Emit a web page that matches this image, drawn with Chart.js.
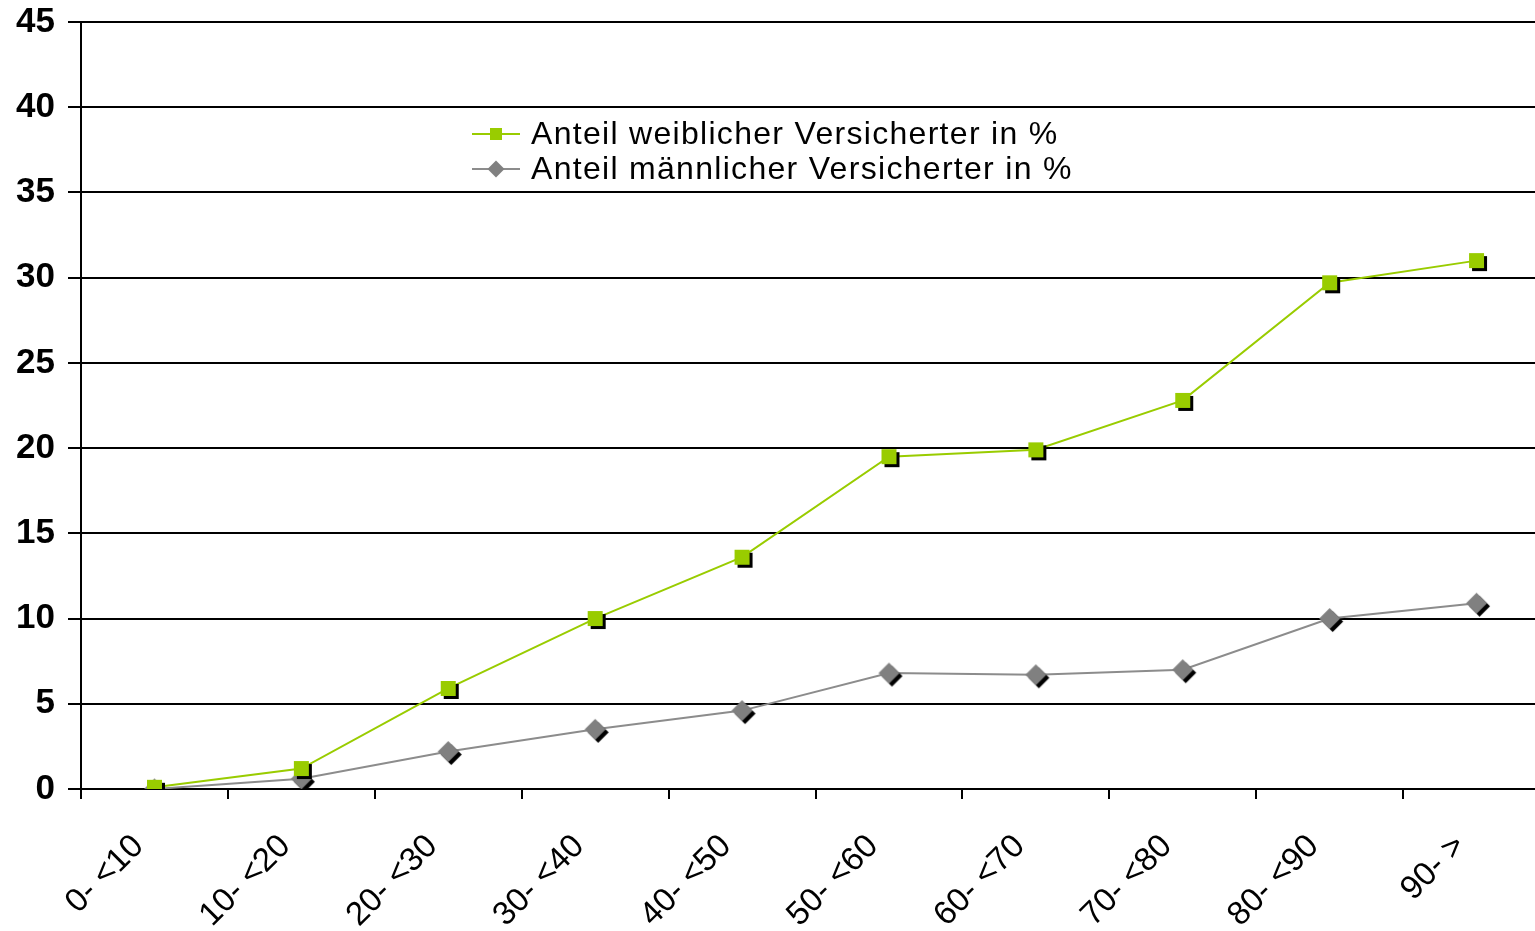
<!DOCTYPE html>
<html>
<head>
<meta charset="utf-8">
<script src="https://cdn.jsdelivr.net/npm/chart.js@4.4.0/dist/chart.umd.min.js"></script>
<style>
html,body{margin:0;padding:0;background:#fff;overflow:hidden;width:1535px;height:931px}
#wrap{position:absolute;left:0;top:0;width:1556px;height:931px}
#legend{position:absolute;left:472px;top:116px;font-family:"Liberation Sans",Arial,sans-serif;font-size:32px;color:#000;letter-spacing:1.3px;white-space:nowrap}
.item{display:flex;align-items:center;height:35px}
.sym{position:relative;width:48px;height:35px;margin-right:11px;flex:none}
.sym .ln{position:absolute;left:0;right:0;top:17px;height:2px}
.sym .mk{position:absolute}
</style>
</head>
<body>
<div id="wrap"><canvas id="c" width="1556" height="931"></canvas></div>
<div id="legend"></div>
<script>
const categories = ["0- <10","10- <20","20- <30","30- <40","40- <50","50- <60","60- <70","70- <80","80- <90","90- >"];
const femaleLabel = "Anteil weiblicher Versicherter in %";
const maleLabel = "Anteil männlicher Versicherter in %";
const female = [0.1, 1.2, 5.9, 10.0, 13.6, 19.5, 19.9, 22.8, 29.7, 31.0];
const male = [0.0, 0.6, 2.2, 3.5, 4.6, 6.8, 6.7, 7.0, 10.0, 10.9];
const yMin = 0, yMax = 45, yStep = 5;

const GREEN = "#99CC00";
const GRAY = "#808080";

function makeMarker(shape, color, size, off) {
  const s = size + off * 2 + 4;
  const cv = document.createElement("canvas");
  cv.width = s; cv.height = s;
  const ctx = cv.getContext("2d");
  const c = s / 2;
  function draw(cx, cy, fill) {
    ctx.fillStyle = fill;
    ctx.beginPath();
    if (shape === "square") {
      ctx.rect(cx - size / 2, cy - size / 2, size, size);
    } else {
      ctx.moveTo(cx, cy - size / 2);
      ctx.lineTo(cx + size / 2, cy);
      ctx.lineTo(cx, cy + size / 2);
      ctx.lineTo(cx - size / 2, cy);
      ctx.closePath();
    }
    ctx.fill();
  }
  draw(c + off, c + off, "#000");
  draw(c, c, color);
  return cv;
}

const squareMk = makeMarker("square", GREEN, 15, 3);
const diamondMk = makeMarker("diamond", GRAY, 21, 3);

const chart = new Chart(document.getElementById("c"), {
  type: "line",
  data: {
    labels: categories,
    datasets: [
      { label: femaleLabel, data: female, borderColor: GREEN, borderWidth: 2, pointStyle: squareMk, tension: 0, order: 1 },
      { label: maleLabel, data: male, borderColor: "#8c8c8c", borderWidth: 2, pointStyle: diamondMk, tension: 0, order: 2 }
    ]
  },
  options: {
    responsive: false,
    devicePixelRatio: 1,
    animation: false,
    layout: { padding: { top: 22, right: 0, left: 0, bottom: 0 } },
    plugins: { legend: { display: false }, tooltip: { enabled: false } },
    scales: {
      x: {
        type: "category",
        offset: true,
        grid: { offset: true, drawOnChartArea: false, drawTicks: true, tickLength: 10, color: "#000", lineWidth: 2 },
        border: { display: true, color: "#000", width: 2 },
        ticks: {
          color: "#000",
          font: { family: "'Liberation Sans', Arial, sans-serif", size: 33 },
          maxRotation: 45, minRotation: 45, padding: 28, labelOffset: -16, autoSkip: false
        },
        afterFit: (s) => { s.height = 142; }
      },
      y: {
        min: yMin, max: yMax,
        ticks: {
          stepSize: yStep, color: "#000", padding: 13,
          font: { family: "'Liberation Sans', Arial, sans-serif", size: 35, weight: "bold", lineHeight: 1 }
        },
        grid: { color: "#000", lineWidth: 2, tickLength: 13 },
        border: { display: true, color: "#000", width: 2 },
        afterFit: (s) => { s.width = 81; s.paddingTop = 0; s.paddingBottom = 0; }
      }
    }
  }
});

// legend (HTML, built from the dataset labels)
const legend = document.getElementById("legend");
[[femaleLabel, GREEN, "square"], [maleLabel, GRAY, "diamond"]].forEach(([txt, col, shape]) => {
  const item = document.createElement("div"); item.className = "item";
  const sym = document.createElement("div"); sym.className = "sym";
  const ln = document.createElement("div"); ln.className = "ln"; ln.style.background = shape === "square" ? GREEN : "#8c8c8c";
  const mk = document.createElement("div"); mk.className = "mk"; mk.style.background = col;
  mk.style.left = "18px"; mk.style.top = "12px"; mk.style.width = "12px"; mk.style.height = "12px";
  if (shape !== "square") { mk.style.transform = "rotate(45deg)"; }
  sym.appendChild(ln); sym.appendChild(mk);
  const t = document.createElement("span"); t.textContent = txt;
  item.appendChild(sym); item.appendChild(t);
  legend.appendChild(item);
});
</script>
</body>
</html>
